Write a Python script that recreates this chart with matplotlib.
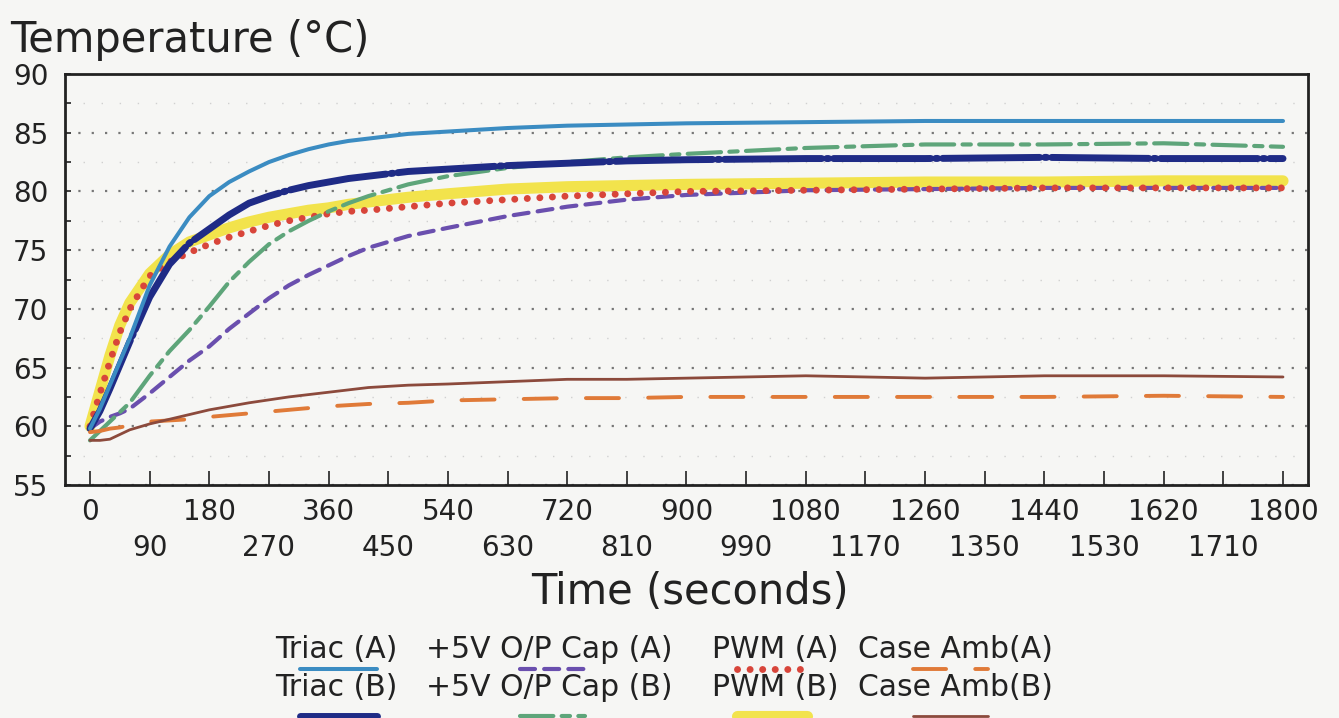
import matplotlib
matplotlib.use("Agg")
import matplotlib.pyplot as plt
from matplotlib.lines import Line2D
from matplotlib.ticker import MultipleLocator

# 数据
t = [0, 15, 30, 45, 60, 90, 120, 150, 180, 210, 240, 270, 300, 330, 360, 390, 420, 480, 540,
     630, 720, 810, 900, 1080, 1260, 1440, 1620, 1800]

triac_a = [59.8, 61.5, 63.5, 65.5, 67.5, 72.0, 75.3, 77.8, 79.6, 80.8, 81.7, 82.5, 83.1, 83.6, 84.0, 84.3, 84.5, 84.9, 85.1,
           85.4, 85.6, 85.7, 85.8, 85.9, 86.0, 86.0, 86.0, 86.0]
triac_b = [59.8, 61.3, 63.2, 65.2, 67.2, 71.0, 73.8, 75.6, 76.8, 78.0, 79.0, 79.6, 80.1, 80.5, 80.8, 81.1, 81.3, 81.7, 81.9,
           82.2, 82.4, 82.6, 82.7, 82.8, 82.8, 82.9, 82.8, 82.8]
cap_a = [59.8, 60.4, 60.8, 61.1, 61.5, 62.8, 64.2, 65.6, 66.8, 68.3, 69.6, 70.9, 72.0, 72.9, 73.7, 74.5, 75.2, 76.2, 76.9,
         77.9, 78.7, 79.3, 79.7, 80.1, 80.2, 80.3, 80.3, 80.3]
cap_b = [58.8, 59.6, 60.4, 61.2, 62.0, 64.3, 66.4, 68.2, 70.2, 72.3, 74.0, 75.5, 76.6, 77.5, 78.3, 79.0, 79.6, 80.6, 81.3,
         82.0, 82.5, 82.9, 83.2, 83.7, 84.0, 84.0, 84.1, 83.8]
pwm_a = [60.0, 62.8, 65.5, 68.0, 70.0, 72.8, 74.0, 74.8, 75.5, 76.1, 76.6, 77.1, 77.5, 77.8, 78.1, 78.3, 78.4, 78.7, 79.0,
         79.3, 79.6, 79.8, 80.0, 80.1, 80.2, 80.3, 80.3, 80.3]
pwm_b = [60.0, 63.0, 66.0, 68.6, 70.5, 73.0, 74.6, 75.7, 76.3, 76.9, 77.4, 77.8, 78.1, 78.4, 78.6, 78.9, 79.1, 79.5, 79.8,
         80.2, 80.4, 80.5, 80.6, 80.7, 80.8, 80.8, 80.9, 80.9]
amb_a = [59.5, 59.6, 59.8, 59.9, 60.1, 60.4, 60.5, 60.6, 60.8, 60.95, 61.1, 61.25, 61.4, 61.55, 61.7, 61.8, 61.9, 62.0, 62.2,
         62.3, 62.4, 62.4, 62.5, 62.5, 62.5, 62.5, 62.6, 62.5]
amb_b = [58.8, 58.8, 58.9, 59.3, 59.7, 60.2, 60.6, 61.0, 61.4, 61.7, 62.0, 62.25, 62.5, 62.7, 62.9, 63.1, 63.3, 63.5, 63.6,
         63.8, 64.0, 64.0, 64.1, 64.3, 64.1, 64.3, 64.3, 64.2]

major_x = list(range(0, 1801, 180))
minor_x = list(range(90, 1800, 180))
y_ticks = [55, 60, 65, 70, 75, 80, 85, 90]

W, H = 1339, 718


def px(x, y):
    """像素坐标 -> figure坐标"""
    return x / W, 1 - y / H


# 样式
styles = {
    'triac_a': dict(color='#3b8cc2', lw=2.9, ls='-'),
    'triac_b': dict(color='#1f2b86', lw=5.0, ls=(0, (14, 0.7, 0.3, 0.7))),
    'cap_a': dict(color='#6a4fae', lw=3.0, ls=(0, (3.6, 2.2))),
    'cap_b': dict(color='#5ea57a', lw=3.0, ls=(0, (8, 2, 2, 2))),
    'pwm_a': dict(color='#d8453a', lw=5.0, ls=(0, (0.01, 1.8))),
    'pwm_b': dict(color='#f2e34c', lw=8.0, ls='-'),
    'amb_a': dict(color='#e07a38', lw=2.8, ls=(0, (8.5, 7.5))),
    'amb_b': dict(color='#8c4a3c', lw=2.0, ls='-'),
}

fig = plt.figure(figsize=(W / 100, H / 100), dpi=100, facecolor='#f6f6f4')
ax = fig.add_axes([65 / W, 1 - 485 / H, (1308 - 65) / W, (485 - 74) / H])
ax.set_facecolor('#f6f6f4')

series = [('pwm_b', pwm_b), ('cap_a', cap_a), ('pwm_a', pwm_a), ('cap_b', cap_b),
          ('triac_b', triac_b), ('triac_a', triac_a), ('amb_a', amb_a), ('amb_b', amb_b)]
for key, vals in series:
    s = styles[key]
    ax.plot(t, vals, color=s['color'], lw=s['lw'], linestyle=s['ls'],
            dash_capstyle='round', solid_capstyle='round', solid_joinstyle='round')

ax.set_xlim(-37.7, 1837.7)
ax.set_ylim(55, 90)

# 坐标轴
ax.set_xticks(major_x)
ax.set_xticklabels([str(v) for v in major_x])
ax.set_xticks(minor_x, minor=True)
ax.set_xticklabels([str(v) for v in minor_x], minor=True)
ax.tick_params(axis='x', which='both', direction='in', length=10, width=1.2,
               labelsize=20, colors='#222222')
ax.tick_params(axis='x', which='major', pad=9)
ax.tick_params(axis='x', which='minor', pad=35)

ax.set_yticks(y_ticks)
ax.set_yticklabels([str(v) for v in y_ticks])
ax.yaxis.set_minor_locator(MultipleLocator(2.5))
ax.tick_params(axis='y', which='both', direction='in', length=4, width=1.2,
               labelsize=20, pad=12, colors='#222222')
ax.tick_params(top=False, right=False)

ax.grid(axis='y', which='major', color='#777777', linestyle=(0, (1, 5)), lw=1.6)
ax.grid(axis='y', which='minor', color='#d0d0d0', linestyle=(0, (1, 12)), lw=1.0)

for sp in ax.spines.values():
    sp.set_linewidth(2)
    sp.set_color('#222222')

# 标题
fig.text(*px(10, 40), 'Temperature (°C)', fontsize=30, ha='left', va='center', color='#222222')
fig.text(*px(690, 592), 'Time (seconds)', fontsize=30, ha='center', va='center', color='#222222')

# 图例
labels_a = ['Triac (A)', '+5V O/P Cap (A)', 'PWM (A)', 'Case Amb(A)']
labels_b = ['Triac (B)', '+5V O/P Cap (B)', 'PWM (B)', 'Case Amb(B)']
keys_a = ['triac_a', 'cap_a', 'pwm_a', 'amb_a']
keys_b = ['triac_b', 'cap_b', 'pwm_b', 'amb_b']
text_x = [275, 426, 712, 858]
sample_x = [(300, 377), (520, 585), (737, 807), (913, 988)]

for row, (labels, keys, ty, sy) in enumerate([(labels_a, keys_a, 650, 669),
                                               (labels_b, keys_b, 688, 716)]):
    for lab, key, tx, (x0, x1) in zip(labels, keys, text_x, sample_x):
        fig.text(*px(tx, ty), lab, fontsize=21.5, ha='left', va='center', color='#222222')
        s = styles[key]
        p0, p1 = px(x0, sy), px(x1, sy)
        fig.add_artist(Line2D([p0[0], p1[0]], [p0[1], p1[1]], transform=fig.transFigure,
                              color=s['color'], lw=s['lw'], linestyle=s['ls'],
                              dash_capstyle='round', solid_capstyle='round'))

fig.savefig('out.png', dpi=100, facecolor=fig.get_facecolor())
